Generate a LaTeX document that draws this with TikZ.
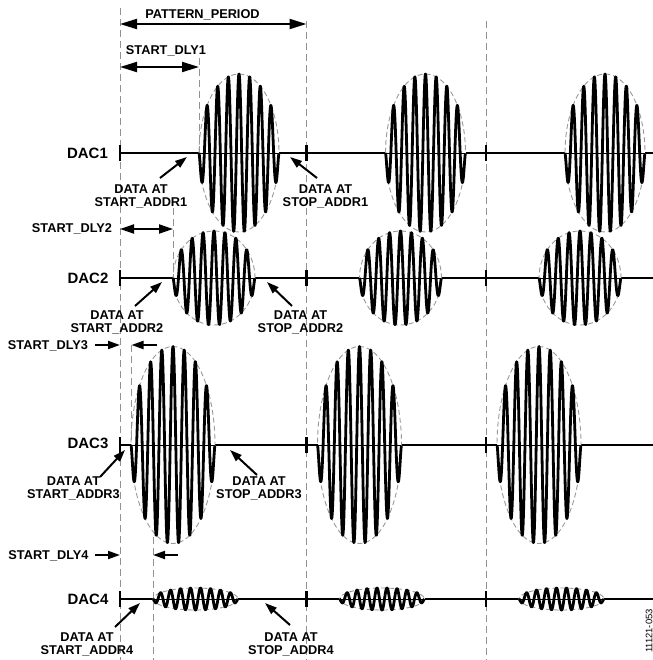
\documentclass[tikz,border=0pt]{standalone}
\usepackage{fontspec}
\setmainfont{Liberation Sans}
\usetikzlibrary{arrows.meta}
\newcommand{\dacrow}[5]{% #1 y0, #2 offset, #3 width, #4 amplitude, #5 cycles
  \draw[line width=0.6bp] (120,#1) -- (653,#1);
  \draw[sig] (120,#1) -- (120+#2,#1)
             (120+#2+#3,#1) -- (306.5+#2,#1)
             (306.5+#2+#3,#1) -- (486+#2,#1)
             (486+#2+#3,#1) -- (653,#1);
  \foreach \p in {120,306.5,486} {
    \pgfmathsetmacro\xs{\p+#2}
    \draw[env] (\xs+#3/2,#1) ellipse [x radius=#3/2, y radius=#4];
    \draw[wavestyle] plot[domain=0:1,samples=400,variable=\t]
      ({\xs+\t*#3},{#1+#4*sqrt(max(0,1-(2*\t-1)*(2*\t-1)))*sin(360*#5*\t)});
    \draw[sig] (\p,#1-8) -- (\p,#1+8);
  }
}
\begin{document}
\begin{tikzpicture}[x=1bp,y=-1bp,
  lbl/.style={font=\fontsize{12.8}{12.8}\selectfont\bfseries, inner sep=0pt, align=center},
  daclbl/.style={font=\fontsize{15}{15}\selectfont\bfseries, inner sep=0pt, anchor=base},
  vdash/.style={draw=gray!85, line width=1bp, dash pattern=on 7bp off 4bp},
  env/.style={draw=gray!80, line width=0.9bp, dash pattern=on 5bp off 3bp},
  sig/.style={line width=2.6bp},
  wavestyle/.style={line width=2.8bp, line join=round},
  dim/.style={line width=2bp, {Triangle[length=17bp,width=10bp]}-{Triangle[length=17bp,width=10bp]}},
  ptr/.style={line width=2bp, -{Triangle[length=12bp,width=8bp]}},
]
\useasboundingbox (0,0) rectangle (653,660);

% guide lines
\draw[vdash] (120,8) -- (120,660);
\draw[vdash] (306.5,21) -- (306.5,660);
\draw[vdash] (486,21) -- (486,660);
\draw[vdash] (199,58) -- (199,153);
\draw[vdash] (173,208) -- (173,278);
\draw[vdash] (131.5,345) -- (131.5,445);
\draw[vdash] (153,537) -- (153,660);

% waveforms
\dacrow{153}{79}{80}{79}{7.5}
\dacrow{278}{53}{82}{47}{7.5}
\dacrow{445}{11}{84}{98.5}{7.5}
\dacrow{599}{33}{85}{11}{8.5}

% DAC labels
\node[daclbl] (dac1) at (87.5,158.4) {DAC1};
\node[daclbl] (dac2) at (88,283.4) {DAC2};
\node[daclbl] (dac3) at (88,448.4) {DAC3};
\node[daclbl] (dac4) at (88,604.4) {DAC4};

% pattern period
\coordinate (ppl) at (120,24);
\coordinate (ppr) at (306.5,24);
\draw[dim] (ppl) -- (ppr);
\node[lbl, anchor=base] (pp) at (202.5,18.3) {PATTERN\_PERIOD};

% start delays
\node[lbl, anchor=base] (sd1) at (166,54.1) {START\_DLY1};
\coordinate (sd1l) at (120,67);
\coordinate (sd1r) at (199,67);
\draw[dim] (sd1l) -- (sd1r);

\node[lbl, anchor=base] (sd2) at (72,232.6) {START\_DLY2};
\coordinate (sd2l) at (120,229);
\coordinate (sd2r) at (173,229);
\draw[line width=2bp, {Triangle[length=14bp,width=9bp]}-{Triangle[length=14bp,width=9bp]}] (sd2l) -- (sd2r);

\node[lbl, anchor=base] (sd3) at (48,349.6) {START\_DLY3};
\coordinate (sd3a) at (95,345);
\coordinate (sd3b) at (120,345);
\coordinate (sd3c) at (157,345);
\coordinate (sd3d) at (131.5,345);
\draw[ptr] (sd3a) -- (sd3b);
\draw[ptr] (sd3c) -- (sd3d);

\node[lbl, anchor=base] (sd4) at (48.5,559.6) {START\_DLY4};
\coordinate (sd4a) at (95,555);
\coordinate (sd4b) at (120,555);
\coordinate (sd4c) at (178,555);
\coordinate (sd4d) at (153,555);
\draw[ptr] (sd4a) -- (sd4b);
\draw[ptr] (sd4c) -- (sd4d);

% data labels
\node[lbl] (st1) at (141,196.7) {DATA AT\\START\_ADDR1};
\node[lbl] (sp1) at (325.5,196.7) {DATA AT\\STOP\_ADDR1};
\node[lbl] (st2) at (117,322.7) {DATA AT\\START\_ADDR2};
\node[lbl] (sp2) at (300.5,322.7) {DATA AT\\STOP\_ADDR2};
\node[lbl] (st3) at (73.5,488.7) {DATA AT\\START\_ADDR3};
\node[lbl] (sp3) at (259,488.7) {DATA AT\\STOP\_ADDR3};
\node[lbl] (st4) at (87,644.7) {DATA AT\\START\_ADDR4};
\node[lbl] (sp4) at (291,644.7) {DATA AT\\STOP\_ADDR4};

\coordinate (st1t) at (160,178); \coordinate (st1h) at (187,157);
\coordinate (sp1t) at (317,178); \coordinate (sp1h) at (290,157);
\coordinate (st2t) at (135,306); \coordinate (st2h) at (162,282);
\coordinate (sp2t) at (292,306); \coordinate (sp2h) at (267,282);
\coordinate (st3t) at (100,477); \coordinate (st3h) at (125,450);
\coordinate (sp3t) at (257,475); \coordinate (sp3h) at (230,450);
\coordinate (st4t) at (115,627); \coordinate (st4h) at (140,603);
\coordinate (sp4t) at (290,625); \coordinate (sp4h) at (265,603);
\foreach \a in {st1,sp1,st2,sp2,st3,sp3,st4,sp4}
  \draw[ptr] (\a t) -- (\a h);

\node[font=\fontsize{9.5}{9.5}\selectfont, rotate=90, inner sep=0pt] (fig) at (649,631) {11121-053};
\end{tikzpicture}
\end{document}
